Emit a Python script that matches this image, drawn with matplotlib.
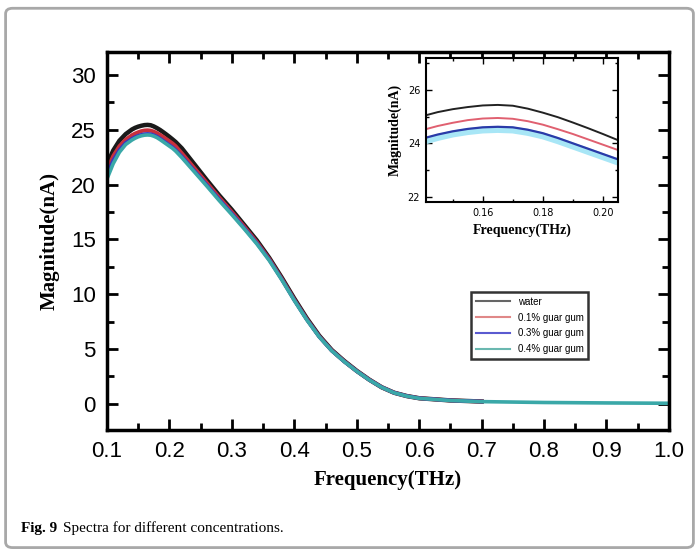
import numpy as np
import matplotlib
matplotlib.use('Agg')
import matplotlib.pyplot as plt
from matplotlib.patches import FancyBboxPatch
from matplotlib.ticker import MultipleLocator

# frequency grid (THz) and magnitudes (nA)
freq = [0.10, 0.11, 0.12, 0.13, 0.14, 0.145, 0.15, 0.155, 0.16, 0.165, 0.17, 0.175,
        0.18, 0.185, 0.19, 0.195, 0.20, 0.205, 0.21, 0.22, 0.24, 0.26, 0.28, 0.30,
        0.32, 0.34, 0.36, 0.38, 0.40, 0.42, 0.44, 0.46, 0.48, 0.50, 0.52, 0.54,
        0.56, 0.58, 0.60, 0.65, 0.70, 0.80, 0.90, 1.00]
nan = np.nan
water = [21.8, 23.1, 24.0, 24.6, 25.02, 25.17, 25.28, 25.36, 25.42, 25.44, 25.41, 25.3,
         25.15, 24.98, 24.78, 24.57, 24.35, 24.12, 23.88, 23.3, 21.85, 20.4, 19.0, 17.7,
         16.3, 14.9, 13.3, 11.5, 9.6, 7.8, 6.2, 4.9, 3.9, 3.0, 2.2, 1.5,
         1.0, 0.7, 0.5, 0.3, 0.2, nan, nan, nan]
gum01 = [21.3, 22.6, 23.5, 24.1, 24.5, 24.65, 24.77, 24.87, 24.93, 24.95, 24.92, 24.83,
         24.7, 24.53, 24.35, 24.15, 23.95, 23.75, 23.5, 22.85, 21.5, 20.15, 18.8, 17.5,
         16.15, 14.75, 13.2, 11.4, 9.5, 7.72, 6.14, 4.86, 3.87, 2.98, 2.19, 1.5,
         1.0, 0.7, 0.5, 0.3, 0.2, nan, nan, nan]
gum03 = [20.9, 22.2, 23.15, 23.8, 24.18, 24.33, 24.45, 24.54, 24.6, 24.62, 24.6, 24.51,
         24.38, 24.2, 24.0, 23.8, 23.6, 23.4, 23.15, 22.55, 21.25, 19.95, 18.62, 17.35,
         16.02, 14.65, 13.12, 11.34, 9.45, 7.68, 6.11, 4.84, 3.85, 2.97, 2.18, 1.5,
         1.0, 0.7, 0.5, 0.3, 0.2, nan, nan, nan]
gum04 = [20.5, 21.9, 22.95, 23.65, 24.06, 24.22, 24.35, 24.44, 24.5, 24.52, 24.5, 24.41,
         24.28, 24.1, 23.9, 23.7, 23.5, 23.3, 23.05, 22.45, 21.15, 19.85, 18.52, 17.25,
         15.94, 14.58, 13.06, 11.3, 9.42, 7.65, 6.09, 4.83, 3.84, 2.96, 2.17, 1.49,
         0.99, 0.69, 0.49, 0.29, 0.19, 0.11, 0.07, 0.04]
labels = ['water', '0.1% guar gum', '0.3% guar gum', '0.4% guar gum']
x_ticks = [0.1, 0.2, 0.3, 0.4, 0.5, 0.6, 0.7, 0.8, 0.9, 1.0]
y_ticks = [0, 5, 10, 15, 20, 25, 30]

fig = plt.figure(figsize=(6.99, 5.52), dpi=100)
fig.patches.append(FancyBboxPatch((0.008, 0.008), 0.984, 0.977, boxstyle='round,pad=0,rounding_size=0.01',
                                  transform=fig.transFigure, fc='none', ec='#a8a8a8', lw=2))

ax = fig.add_axes([0.153, 0.221, 0.804, 0.685])
ax.plot(freq, water, c='#1a1a1a', lw=3.2, label=labels[0])
ax.plot(freq, gum01, c='#c8303c', lw=2.8, label=labels[1])
ax.plot(freq, gum03, c='#3838c0', lw=2.6, label=labels[2])
ax.plot(freq, gum04, c='#3aa8a8', lw=2.6, label=labels[3])
ax.set_xlim(0.1, 1.0)
ax.set_ylim(-2.4, 32.1)
ax.set_xticks(x_ticks)
ax.set_yticks(y_ticks)
ax.xaxis.set_minor_locator(MultipleLocator(0.05))
ax.yaxis.set_minor_locator(MultipleLocator(2.5))
ax.tick_params(which='both', direction='in', top=True, right=True, width=2)
ax.tick_params(which='major', length=8, labelsize=16, pad=8)
ax.tick_params(which='minor', length=5)
for lab in ax.get_xticklabels() + ax.get_yticklabels():
    lab.set_fontfamily('Liberation Sans')
for s in ax.spines.values():
    s.set_linewidth(2.5)
ax.set_xlabel('Frequency(THz)', family='Liberation Serif', weight='bold', fontsize=15, labelpad=6)
ax.set_ylabel('Magnitude(nA)', family='Liberation Serif', weight='bold', fontsize=15, labelpad=8)

leg = ax.legend(loc='upper left', bbox_to_anchor=(0.639, 0.378), frameon=True,
                fancybox=False, handlelength=3.5, borderpad=0.5, labelspacing=0.6,
                prop={'family': 'Liberation Sans', 'size': 7})
leg.get_frame().set_edgecolor('black')
leg.get_frame().set_linewidth(1.8)
colors_leg = ['#666666', '#e08888', '#5a5ad0', '#6ab8b0']
for h, c in zip(leg.get_lines(), colors_leg):
    h.set_color(c)
    h.set_linewidth(1.5)

# inset
ins = fig.add_axes([0.609, 0.634, 0.275, 0.261])
ins.plot(freq, gum04, c='#a8e6f6', lw=5)
ins.plot(freq, gum03, c='#2a3aa8', lw=1.6)
ins.plot(freq, gum01, c='#e06070', lw=1.4)
ins.plot(freq, water, c='#222222', lw=1.4)
ins.set_xlim(0.141, 0.205)
ins.set_ylim(21.8, 27.2)
ins.set_xticks([0.16, 0.18, 0.20])
ins.set_yticks([22, 24, 26])
ins.xaxis.set_minor_locator(MultipleLocator(0.01))
ins.yaxis.set_minor_locator(MultipleLocator(1))
ins.tick_params(which='both', direction='in', top=True, right=True, width=1)
ins.tick_params(which='major', length=4, labelsize=7, pad=4)
ins.tick_params(which='minor', length=2)
for s in ins.spines.values():
    s.set_linewidth(1.5)
ins.set_xlabel('Frequency(THz)', family='Liberation Serif', weight='bold', fontsize=10, labelpad=4)
ins.set_ylabel('Magnitude(nA)', family='Liberation Serif', weight='bold', fontsize=10, labelpad=4)

fig.text(0.03, 0.043, 'Fig. 9', family='Liberation Serif', weight='bold', fontsize=11, va='center')
fig.text(0.09, 0.043, 'Spectra for different concentrations.', family='Liberation Serif', fontsize=11, va='center')

fig.savefig('out.png', dpi=100)
